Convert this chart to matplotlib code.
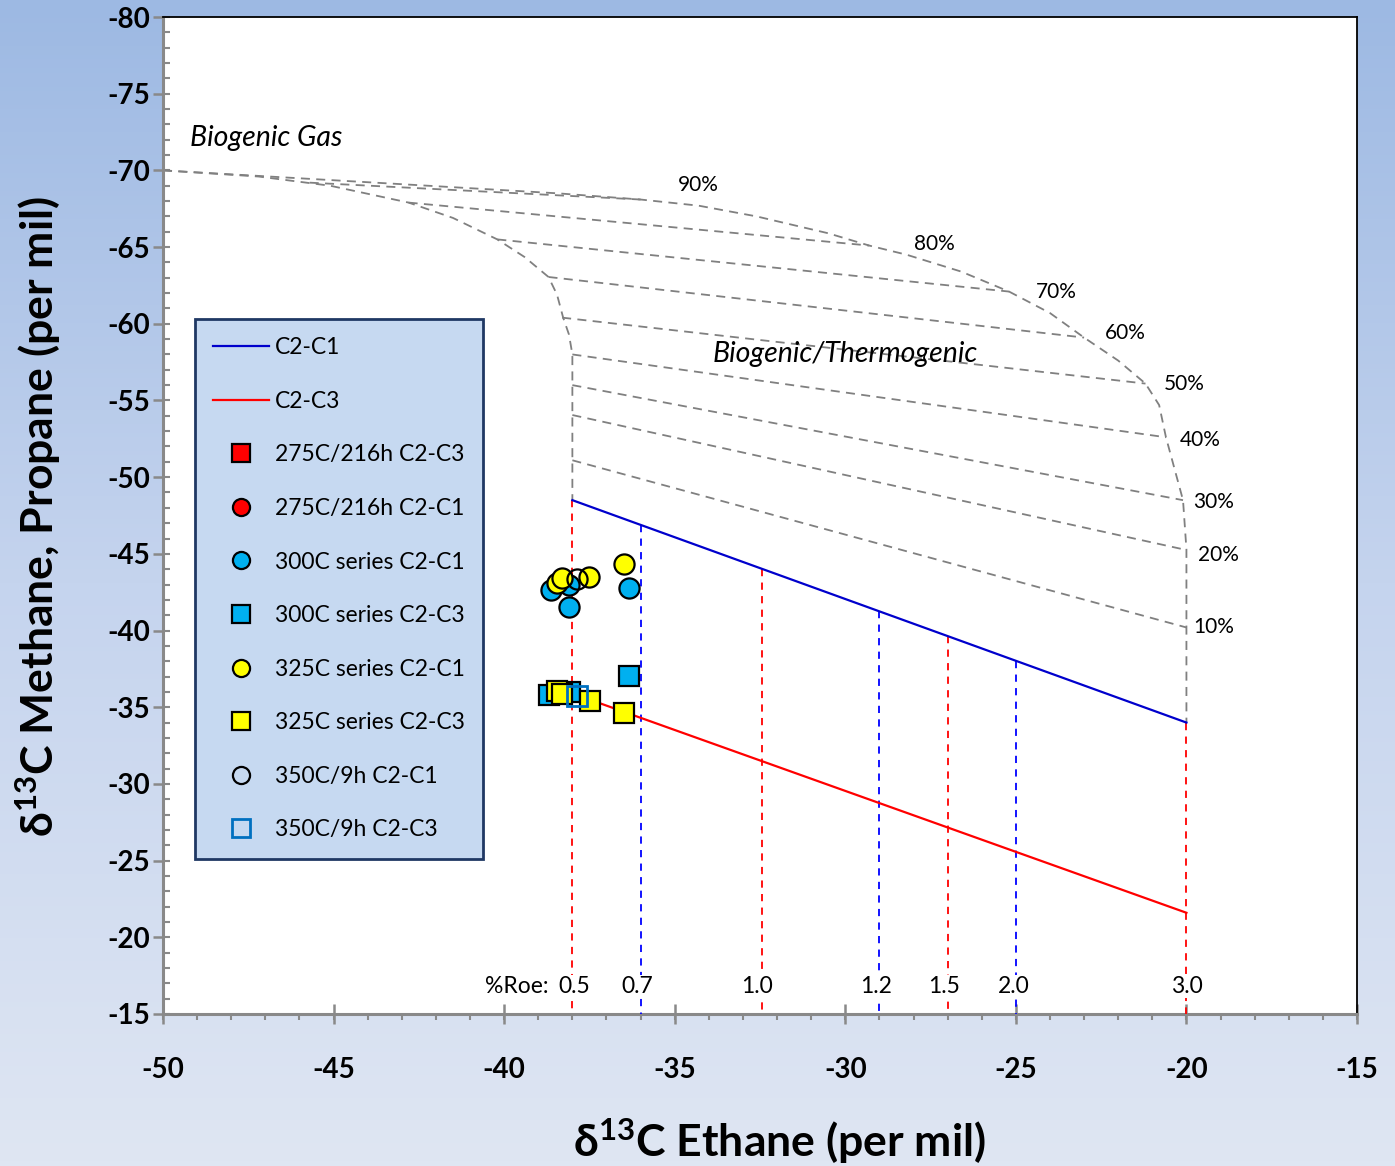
import numpy as np
import matplotlib
matplotlib.use('Agg')
import matplotlib.pyplot as plt
from matplotlib.colors import LinearSegmentedColormap

plt.rcParams['font.family'] = ['Lato', 'DejaVu Sans']
plt.rcParams['mathtext.fontset'] = 'custom'
plt.rcParams['mathtext.rm'] = 'Lato'
plt.rcParams['mathtext.bf'] = 'Lato:bold'
plt.rcParams['mathtext.it'] = 'Lato:italic'
plt.rcParams['axes.unicode_minus'] = False

# ---------------- data ----------------
# maturity reference lines (C2-C1 and C2-C3)
c2c1_x = [-38.0, -20.0]
c2c1_y = [-48.5, -34.0]
c2c3_x = [-38.0, -20.0]
c2c3_y = [-35.9, -21.6]

# %Roe markers along the C2-C1 line
roe_labels = ['0.5', '0.7', '1.0', '1.2', '1.5', '2.0', '3.0']
roe_x = [-38.0, -36.0, -32.45, -29.0, -27.0, -25.0, -20.0]
roe_colors = ['red', 'blue', 'red', 'blue', 'red', 'blue', 'red']
roe_label_x = [-37.95, -36.1, -32.6, -29.1, -27.1, -25.05, -20.0]

# envelope curves of the biogenic/thermogenic mixing field
outer_x = [-50.0, -43.0, -38.4, -36.0, -34.3, -32.6, -30.5, -29.3, -28.2, -26.6, -25.2,
           -24.0, -23.0, -22.0, -21.2, -20.8, -20.6, -20.1, -20.0, -20.0, -20.0]
outer_y = [-70.0, -69.1, -68.5, -68.1, -67.7, -67.0, -65.9, -65.1, -64.5, -63.4, -62.1,
           -60.7, -59.1, -57.6, -56.1, -54.7, -52.6, -48.5, -45.3, -40.2, -34.0]
inner_x = [-50.0, -47.2, -45.1, -42.8, -41.5, -40.2, -39.4, -38.7, -38.45, -38.27,
           -38.1, -38.0, -38.0]
inner_y = [-70.0, -69.6, -69.0, -67.9, -66.9, -65.5, -64.35, -63.05, -61.9, -60.4,
           -59.3, -58.0, -48.5]

# mixing lines (percent biogenic)
mix_labels = ['90%', '80%', '70%', '60%', '50%', '40%', '30%', '20%', '10%']
mix_x0 = [-45.7, -42.8, -40.2, -38.7, -38.3, -38.0, -38.0, -38.0, -38.0]
mix_y0 = [-69.2, -67.9, -65.5, -63.05, -60.4, -58.0, -56.0, -54.05, -51.1]
mix_x1 = [-36.0, -29.3, -25.2, -23.0, -21.2, -20.6, -20.1, -20.0, -20.0]
mix_y1 = [-68.1, -65.1, -62.1, -59.1, -56.1, -52.6, -48.5, -45.25, -40.2]
mix_label_x = [-34.3, -27.4, -23.8, -21.8, -20.05, -19.6, -19.2, -19.05, -19.2]
mix_label_y = [-69.05, -65.2, -62.1, -59.4, -56.1, -52.4, -48.4, -44.9, -40.2]

# sample data
s275_c3_x, s275_c3_y = [], []
s275_c1_x, s275_c1_y = [], []
s300_c1_x = [-38.63, -38.10, -38.10, -36.34]
s300_c1_y = [-42.64, -42.97, -41.53, -42.77]
s300_c3_x = [-38.68, -38.07, -36.34]
s300_c3_y = [-35.80, -35.99, -37.03]
s325_c1_x = [-38.45, -38.30, -37.51, -36.49]
s325_c1_y = [-43.10, -43.42, -43.49, -44.34]
s325_c3_x = [-38.45, -38.30, -37.48, -36.49]
s325_c3_y = [-36.06, -35.86, -35.40, -34.62]
s350_c1_x = [-37.86]
s350_c1_y = [-43.36]
s350_c3_x = [-37.86]
s350_c3_y = [-35.73]

xticks = [-50, -45, -40, -35, -30, -25, -20, -15]
xtick_labels = ['-50', '-45', '-40', '-35', '-30', '-25', '-20', '-15']
yticks = [-80, -75, -70, -65, -60, -55, -50, -45, -40, -35, -30, -25, -20, -15]
ytick_labels = ['-80', '-75', '-70', '-65', '-60', '-55', '-50', '-45', '-40',
                '-35', '-30', '-25', '-20', '-15']

# ---------------- figure ----------------
W, H = 1395, 1166
fig = plt.figure(figsize=(W / 100, H / 100), dpi=100)

bg = fig.add_axes([0, 0, 1, 1], zorder=-10)
grad = np.linspace(0, 1, 256).reshape(-1, 1)
cmap = LinearSegmentedColormap.from_list('bg', ['#9db9e3', '#c5d4ee', '#dfe6f3'])
bg.imshow(grad, aspect='auto', cmap=cmap, extent=[0, 1, 0, 1])
bg.axis('off')

ax = fig.add_axes([163 / W, 1 - 1014 / H, (1357 - 163) / W, (1014 - 17) / H])
ax.set_facecolor('white')
ax.set_xlim(-50, -15)
ax.set_ylim(-15, -80)

grey = '#808080'
dash = (0, (5, 3.5))

# envelope + mixing lines
ax.plot(outer_x, outer_y, color=grey, lw=1.3, ls=dash, zorder=2)
ax.plot(inner_x, inner_y, color=grey, lw=1.3, ls=dash, zorder=2)
for x0, y0, x1, y1 in zip(mix_x0, mix_y0, mix_x1, mix_y1):
    ax.plot([x0, x1], [y0, y1], color=grey, lw=1.3, ls=dash, zorder=2)
for lab, lx, ly in zip(mix_labels, mix_label_x, mix_label_y):
    ax.text(lx, ly, lab, fontsize=15, ha='center', va='center', zorder=5)

# %Roe verticals
for rx, rc in zip(roe_x, roe_colors):
    ytop = np.interp(rx, c2c1_x, c2c1_y)
    ax.plot([rx, rx], [ytop, -15], color=rc, lw=1.3, ls=(0, (4, 3.5)), zorder=3)
for lab, lx in zip(roe_labels, roe_label_x):
    ax.text(lx, -16.8, lab, fontsize=16.5, ha='center', va='center',
            zorder=6, bbox=dict(facecolor='white', edgecolor='none', pad=1))
ax.text(-38.7, -16.8, '%Roe:', fontsize=16.5, ha='right', va='center', zorder=6)

# maturity lines
h_c1, = ax.plot(c2c1_x, c2c1_y, color='#0000CC', lw=1.6, zorder=4, label='C2-C1')
h_c3, = ax.plot(c2c3_x, c2c3_y, color='#FF0000', lw=1.6, zorder=4, label='C2-C3')

ms = 14.5
mew = 1.6
h1, = ax.plot(s275_c3_x, s275_c3_y, ls='none', marker='s', ms=ms, mfc='#FF0000', mec='black', mew=mew, label='275C/216h C2-C3', zorder=7)
h2, = ax.plot(s275_c1_x, s275_c1_y, ls='none', marker='o', ms=ms, mfc='#FF0000', mec='black', mew=mew, label='275C/216h C2-C1', zorder=7)
h3, = ax.plot(s300_c1_x, s300_c1_y, ls='none', marker='o', ms=ms, mfc='#00B0F0', mec='black', mew=mew, label='300C series C2-C1', zorder=7)
h4, = ax.plot(s300_c3_x, s300_c3_y, ls='none', marker='s', ms=ms, mfc='#00B0F0', mec='black', mew=mew, label='300C series C2-C3', zorder=7)
h5, = ax.plot(s325_c1_x, s325_c1_y, ls='none', marker='o', ms=ms, mfc='#FFFF00', mec='black', mew=mew, label='325C series C2-C1', zorder=8)
h6, = ax.plot(s325_c3_x, s325_c3_y, ls='none', marker='s', ms=ms, mfc='#FFFF00', mec='black', mew=mew, label='325C series C2-C3', zorder=8)
h7, = ax.plot(s350_c1_x, s350_c1_y, ls='none', marker='o', ms=ms, mfc='none', mec='black', mew=mew, label='350C/9h C2-C1', zorder=9)
h8, = ax.plot(s350_c3_x, s350_c3_y, ls='none', marker='s', ms=ms, mfc='none', mec='#0070C0', mew=2.0, label='350C/9h C2-C3', zorder=9)

# region annotations
ax.text(-49.2, -72.1, 'Biogenic Gas', fontsize=20.5, style='italic', ha='left', va='center')
ax.text(-30.0, -58.0, 'Biogenic/Thermogenic', fontsize=20.5, style='italic', ha='center', va='center', zorder=6)

# axes, ticks
ax.set_xticks(xticks)
ax.set_xticklabels(xtick_labels)
ax.set_yticks(yticks)
ax.set_yticklabels(ytick_labels)
ax.set_xticks(np.arange(-50, -14, 1), minor=True)
ax.set_yticks(np.arange(-80, -14, 1), minor=True)
ax.xaxis.remove_overlapping_locs = False
ax.yaxis.remove_overlapping_locs = False

tc = '#898989'
ax.tick_params(axis='y', which='major', direction='out', length=7.5, width=1.8, color=tc, labelsize=20, pad=2)
ax.tick_params(axis='y', which='minor', direction='in', length=5, width=1.5, color=tc)
ax.tick_params(axis='x', which='major', direction='inout', length=14, width=1.8, color=tc, labelsize=20, pad=24)
ax.tick_params(axis='x', which='minor', direction='out', length=4, width=1.5, color=tc)
for lab in ax.get_xticklabels() + ax.get_yticklabels():
    lab.set_fontweight('bold')

for s in ['left', 'bottom']:
    ax.spines[s].set_color(tc)
    ax.spines[s].set_linewidth(2.2)
for s in ['top', 'right']:
    ax.spines[s].set_color('black')
    ax.spines[s].set_linewidth(1.3)

fig.text(38 / W, 1 - 517 / H, 'δ$^{\\mathbf{13}}$C Methane, Propane (per mil)', rotation=90,
         fontsize=32, fontweight='bold', ha='center', va='center')
fig.text(780 / W, 1 - 1141 / H, 'δ$^{\\mathbf{13}}$C Ethane (per mil)',
         fontsize=32, fontweight='bold', ha='center', va='center')

leg = ax.legend(handles=[h_c1, h_c3, h1, h2, h3, h4, h5, h6, h7, h8],
                loc='upper left', bbox_to_anchor=(195 / W, 1 - 319 / H),
                bbox_transform=fig.transFigure, borderaxespad=0, frameon=True,
                fancybox=False, facecolor='#C6D9F1', edgecolor='#1F3864',
                framealpha=1, fontsize=16.5, labelspacing=1.42, handlelength=2.45,
                handletextpad=0.25, borderpad=0.8, markerscale=0.85)
leg.get_frame().set_linewidth(2)
leg.set_zorder(10)

fig.savefig('out.png', dpi=100)
